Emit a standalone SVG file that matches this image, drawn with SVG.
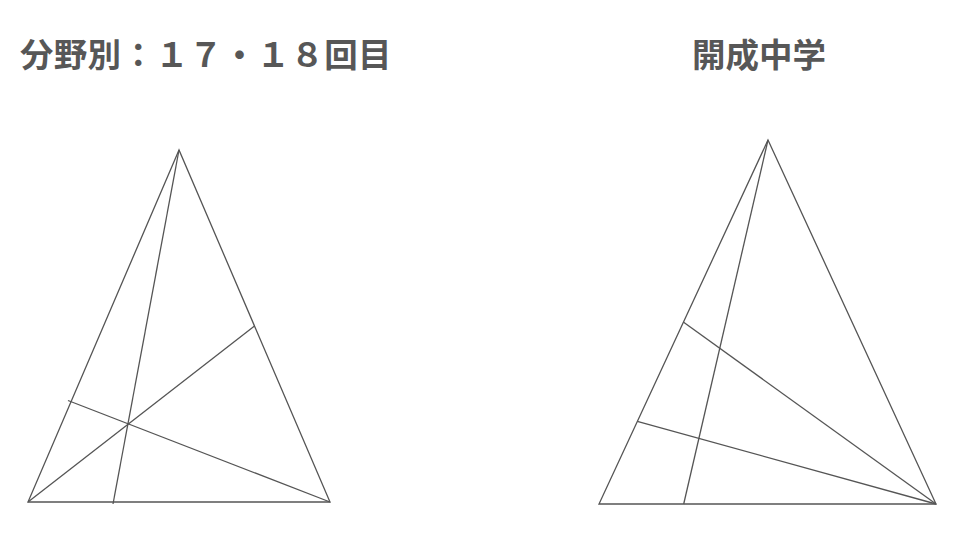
<svg xmlns="http://www.w3.org/2000/svg" width="955" height="536" viewBox="0 0 955 536">
<style>
.t{font-family:"Noto Sans CJK JP","Noto Sans CJK SC",sans-serif;font-weight:bold;font-size:33.5px;fill:#575757}
.l{stroke:#555;stroke-width:1.3;fill:none;stroke-linejoin:miter}
</style>
<rect width="955" height="536" fill="#fff"/>
<g id="title-left"><text class="t" x="20" y="67" letter-spacing="0.3">分野別：１７・１８回目</text></g>
<g id="title-right"><text class="t" x="692" y="67">開成中学</text></g>
<g id="figure-left">
<polygon class="l" points="179,150 28,502 330,502"/>
<line class="l" x1="179" y1="150" x2="113" y2="504"/>
<line class="l" x1="28" y1="502" x2="254.5" y2="326"/>
<line class="l" x1="68" y1="400.5" x2="330" y2="502"/>
</g>
<g id="figure-right">
<polygon class="l" points="768,140 599,504 936,504"/>
<line class="l" x1="768" y1="140" x2="683.7" y2="504"/>
<line class="l" x1="683.3" y1="322" x2="936" y2="504"/>
<line class="l" x1="637.3" y1="421.3" x2="936" y2="504"/>
</g>
</svg>
